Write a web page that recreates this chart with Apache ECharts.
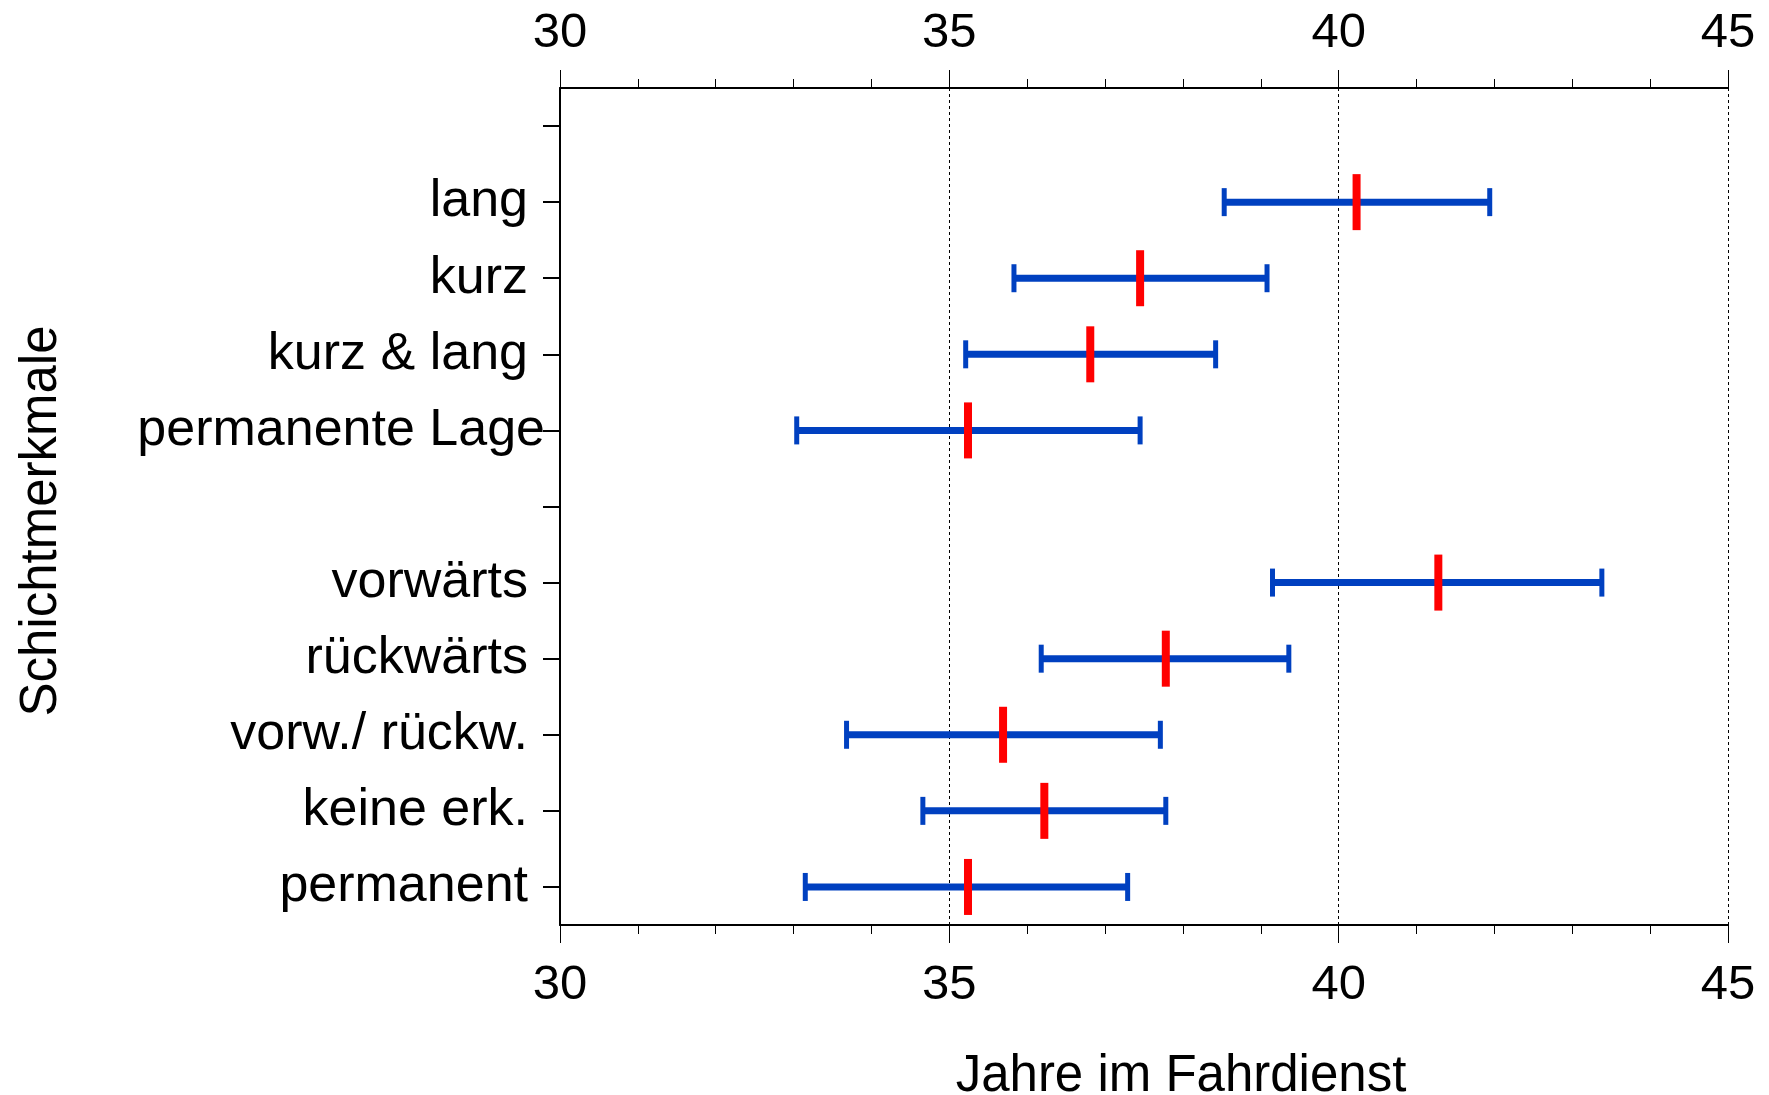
<!DOCTYPE html>
<html>
<head>
<meta charset="utf-8">
<script src="https://cdn.jsdelivr.net/npm/echarts@6/dist/echarts.min.js"></script>
<style>
html,body{margin:0;padding:0;background:#fff;}
#chart{width:1769px;height:1095px;}
</style>
</head>
<body>
<div id="chart"></div>
<script>
// Categories top to bottom (blank slots are spacer rows)
var categories = ['', 'lang', 'kurz', 'kurz & lang', 'permanente Lage', ' ', 'vorwärts', 'rückwärts', 'vorw./ rückw.', 'keine erk.', 'permanent'];
var lowerValues = [null, 38.53, 35.83, 35.21, 33.04, null, 39.15, 36.18, 33.68, 34.66, 33.15];
var upperValues = [null, 41.94, 39.08, 38.42, 37.45, null, 43.38, 39.36, 37.71, 37.78, 37.29];
var meanValues  = [null, 40.23, 37.45, 36.81, 35.24, null, 41.28, 37.78, 35.69, 36.22, 35.24];
var xTicks = [30, 35, 40, 45];
var xAxisTitle = 'Jahre im Fahrdienst';
var yAxisTitle = 'Schichtmerkmale';

var BLUE = '#0040C0';
var RED = '#FF0000';
var FONT = 'Liberation Sans, Arial, sans-serif';

var rangeData = [];
var meanData = [];
for (var i = 0; i < categories.length; i++) {
  if (lowerValues[i] != null) {
    rangeData.push([lowerValues[i], upperValues[i], i]);
    meanData.push([meanValues[i], i]);
  }
}

var chart = echarts.init(document.getElementById('chart'), null, {renderer: 'canvas'});

function xAxisCfg(pos, margin, split) {
  return {
    type: 'value',
    position: pos,
    min: xTicks[0],
    max: xTicks[xTicks.length - 1],
    interval: 5,
    axisLine: {show: true, onZero: false, lineStyle: {color: '#000', width: 2}},
    axisTick: {show: true, inside: false, length: 18, lineStyle: {color: '#000', width: 1}},
    minorTick: {show: true, splitNumber: 5, length: 9, lineStyle: {color: '#000', width: 1}},
    axisLabel: {show: true, margin: margin, color: '#000', fontSize: 49, fontFamily: FONT},
    splitLine: {show: split, lineStyle: {color: '#000', width: 1, type: [3, 3]}},
    minorSplitLine: {show: false}
  };
}

var yData = categories.map(function (c) {
  if (c === 'permanente Lage') {
    return {value: c, textStyle: {padding: [7, -17, 0, 0]}};
  }
  return c;
});

var option = {
  backgroundColor: '#fff',
  animation: false,
  grid: {left: 560, right: 41, top: 88, bottom: 170, containLabel: false, outerBoundsMode: 'none'},
  xAxis: [xAxisCfg('bottom', 36, true), xAxisCfg('top', 30, false)],
  yAxis: {
    type: 'category',
    inverse: true,
    data: yData,
    boundaryGap: true,
    axisLine: {show: true, lineStyle: {color: '#000', width: 2}},
    axisTick: {show: true, alignWithLabel: true, interval: 0, length: 17, lineStyle: {color: '#000', width: 2}},
    axisLabel: {show: true, interval: 0, margin: 32, padding: [7, 0, 0, 0], color: '#000', fontSize: 52, fontFamily: FONT},
    splitLine: {show: false}
  },
  graphic: [
    {type: 'text', x: 42, y: 521, rotation: Math.PI / 2,
     style: {text: yAxisTitle, font: '51px ' + FONT, fill: '#000', textAlign: 'center', textVerticalAlign: 'middle'}},
    {type: 'text', x: 1181, y: 1077,
     style: {text: xAxisTitle, font: '51px ' + FONT, fill: '#000', textAlign: 'center', textVerticalAlign: 'middle'}}
  ],
  series: [
    {
      type: 'custom',
      xAxisIndex: 0,
      encode: {x: [0, 1], y: 2},
      data: rangeData,
      z: 2,
      renderItem: function (params, api) {
        var yi = api.value(2);
        var p1 = api.coord([api.value(0), yi]);
        var p2 = api.coord([api.value(1), yi]);
        var capH = 28;
        return {
          type: 'group',
          children: [
            {type: 'line', shape: {x1: p1[0], y1: p1[1], x2: p2[0], y2: p2[1]}, style: {stroke: BLUE, lineWidth: 7}},
            {type: 'line', shape: {x1: p1[0], y1: p1[1] - capH / 2, x2: p1[0], y2: p1[1] + capH / 2}, style: {stroke: BLUE, lineWidth: 5}},
            {type: 'line', shape: {x1: p2[0], y1: p2[1] - capH / 2, x2: p2[0], y2: p2[1] + capH / 2}, style: {stroke: BLUE, lineWidth: 5}}
          ]
        };
      }
    },
    {
      type: 'scatter',
      xAxisIndex: 0,
      data: meanData,
      symbol: 'rect',
      symbolSize: [8, 56],
      itemStyle: {color: RED, opacity: 1},
      z: 3
    }
  ]
};
chart.setOption(option);
</script>
</body>
</html>
